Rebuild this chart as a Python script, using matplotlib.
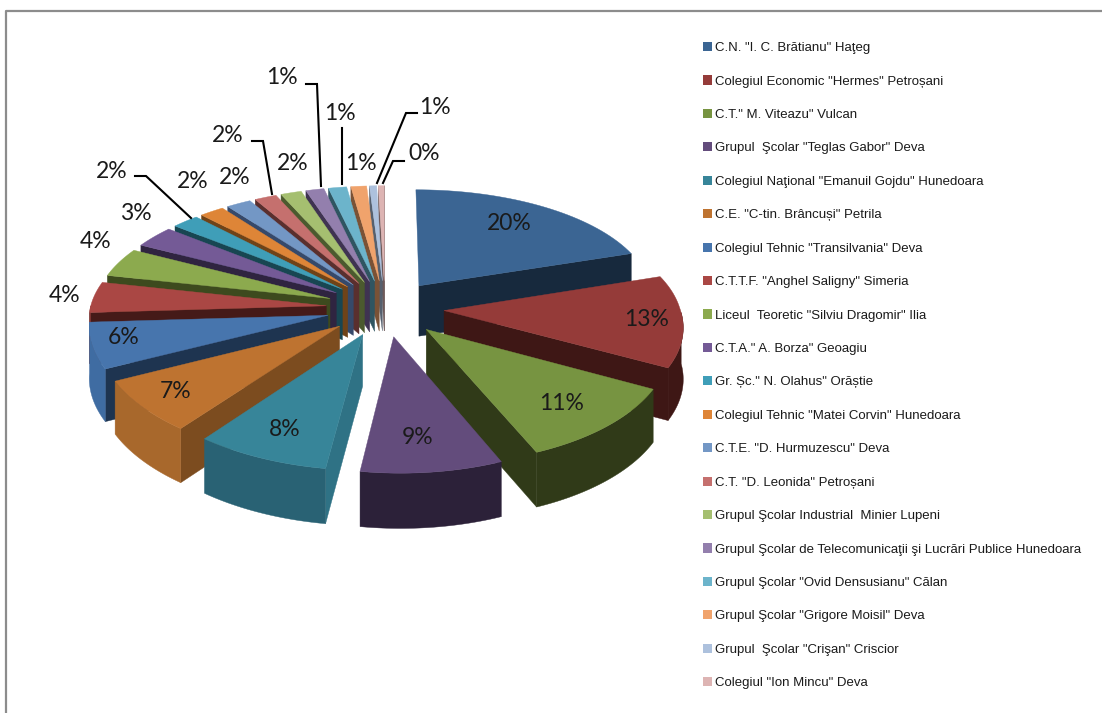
import numpy as np
from matplotlib import pyplot as plt
from matplotlib.patches import Patch, Polygon

schools = ['C.N. "I. C. Brătianu" Haţeg', 'Colegiul Economic "Hermes" Petroșani', 'C.T." M. Viteazu" Vulcan',
           'Grupul  Şcolar "Teglas Gabor" Deva', 'Colegiul Naţional "Emanuil Gojdu" Hunedoara',
           'C.E. "C-tin. Brâncuși" Petrila', 'Colegiul Tehnic "Transilvania" Deva', 'C.T.T.F. "Anghel Saligny" Simeria',
           'Liceul  Teoretic "Silviu Dragomir" Ilia', 'C.T.A." A. Borza" Geoagiu', 'Gr. Șc." N. Olahus" Orăștie',
           'Colegiul Tehnic "Matei Corvin" Hunedoara', 'C.T.E. "D. Hurmuzescu" Deva', 'C.T. "D. Leonida" Petroșani',
           'Grupul Şcolar Industrial  Minier Lupeni', 'Grupul Şcolar de Telecomunicaţii şi Lucrări Publice Hunedoara',
           'Grupul Şcolar "Ovid Densusianu" Călan', 'Grupul Şcolar "Grigore Moisil" Deva',
           'Grupul  Şcolar "Crişan" Criscior', 'Colegiul "Ion Mincu" Deva']
values = [20.0, 13.0, 10.9, 8.6, 8.1, 7.2, 6.4, 4.4, 4.2, 3.2, 2.1, 1.9, 1.9, 1.7, 1.6, 1.4, 1.4, 1.2, 0.55, 0.45]

top_colors = ['#3B6593', '#953B39', '#779441', '#634C7C', '#378599', '#BE7330', '#4775AD', '#AA4744', '#8CAA4E', '#745A96',
              '#3F9EB8', '#DE8537', '#7397C5', '#C5706E', '#A5BF70', '#937FAD', '#6CB4CB', '#F0A36C', '#ADC1DD', '#DDB4B3']
cut_colors = ['#17293D', '#3E1715', '#303A18', '#2C2139', '#2F7285', '#7C4C1F', '#1E3450', '#451A18', '#3D4A1E', '#2F2440',
              '#184652', '#6F4318', '#36496A', '#5A2F2E', '#4B5A2E', '#3F3351', '#2F5561', '#7A5236', '#56606E', '#6E5A5A']
rim_colors = ['#17293D', '#3E1715', '#303A18', '#2C2139', '#296274', '#A8682C', '#3F6CA2', '#8A3A38', '#3D4A1E', '#2F2440',
              '#184652', '#6F4318', '#36496A', '#5A2F2E', '#4B5A2E', '#3F3351', '#2F5561', '#7A5236', '#56606E', '#6E5A5A']

label_pos = [(509, 224), (647, 320), (562, 403), (418, 437), (285, 429), (176, 391), (124, 338), (65, 295), (96, 241), (136, 214),
             (112, 171), (193, 182), (235, 178), (228, 135), (293, 164), (282, 77), (340, 114), (361, 163), (435, 107), (424, 154)]
leaders = [[(135, 176), (146, 176), (191, 218)],
           [(252, 141), (263, 141), (272, 194)],
           [(306, 84), (317, 84), (321, 186)],
           [(342, 128), (342, 184)],
           [(417, 113), (406, 113), (377, 183)],
           [(404, 161), (393, 161), (383, 183)]]

CX, CY = 385, 308
RX, RY = 236, 112.5
PERSP_X = 0.10
PERSP_Y = 0.12
SHEAR = 6
EXPLODE = 0.25
DEPTH = 51


def project(x, z):
    sx = 1 / (1 + PERSP_X * z)
    sy = 1 / (1 + PERSP_Y * z)
    return CX + RX * x * sx + SHEAR * max(0, -z), CY - RY * z * sy, DEPTH * sx ** 0.6


def wall(pts, color, ax, zorder):
    top = [(p[0], p[1]) for p in pts]
    bottom = [(p[0], p[1] + p[2]) for p in pts]
    ax.add_patch(Polygon(top + bottom[::-1], closed=True, fc=color, ec=color, lw=0.3, zorder=zorder))


fig = plt.figure(figsize=(11.02, 7.13), dpi=100)
ax = fig.add_axes([0, 0, 1, 1])
ax.set_xlim(0, 1102)
ax.set_ylim(713, 0)
ax.axis('off')

# frame of the chart area
ax.plot([6, 6, 1102], [713, 11, 11], color='#8C8C8C', lw=1.6, zorder=1)

vals = np.array(values)
edges = np.concatenate([[0], np.cumsum(vals) / vals.sum() * 2 * np.pi])
mids = (edges[:-1] + edges[1:]) / 2

# painter order, the back of the pie first
order = np.argsort(-np.cos(mids))
for n, i in enumerate(order):
    t0, t1, tm = edges[i], edges[i + 1], mids[i]
    ax0, az0 = EXPLODE * np.sin(tm), EXPLODE * np.cos(tm)
    apex = project(ax0, az0)
    th = np.linspace(t0, t1, 40)
    arc = [project(ax0 + np.sin(t), az0 + np.cos(t)) for t in th]
    z = 10 + n * 3
    if np.sin(t0) < 0:
        wall([apex, arc[0]], cut_colors[i], ax, z)
    if np.sin(t1) > 0:
        wall([apex, arc[-1]], cut_colors[i], ax, z)
    front = [p for p, t in zip(arc, th) if np.cos(t) < 0]
    if len(front) > 1:
        wall(front, rim_colors[i], ax, z + 1)
    ax.add_patch(Polygon([apex[:2]] + [p[:2] for p in arc], closed=True, fc=top_colors[i], ec=top_colors[i], lw=0.3, zorder=z + 2))

for line in leaders:
    ax.plot([p[0] for p in line], [p[1] for p in line], color='black', lw=1.5, zorder=100, solid_joinstyle='miter')

for v, pos in zip(vals / vals.sum() * 100, label_pos):
    ax.text(pos[0], pos[1], '%d%%' % round(v), ha='center', va='center', fontsize=16.5, family=['Lato', 'DejaVu Sans'],
            color='#1A1A1A', zorder=101)

handles = [Patch(fc=c, ec='none', label=s) for c, s in zip(top_colors, schools)]
ax.legend(handles=handles, loc='upper left', bbox_to_anchor=(703 / 1102, 1 - 42 / 713), frameon=False,
          prop={'family': ['Liberation Sans', 'DejaVu Sans'], 'size': 9.55}, labelspacing=1.6,
          handlelength=0.68, handleheight=0.68, handletextpad=0.25, borderaxespad=0, borderpad=0, labelcolor='#1A1A1A')

fig.savefig('out.png', dpi=100)
